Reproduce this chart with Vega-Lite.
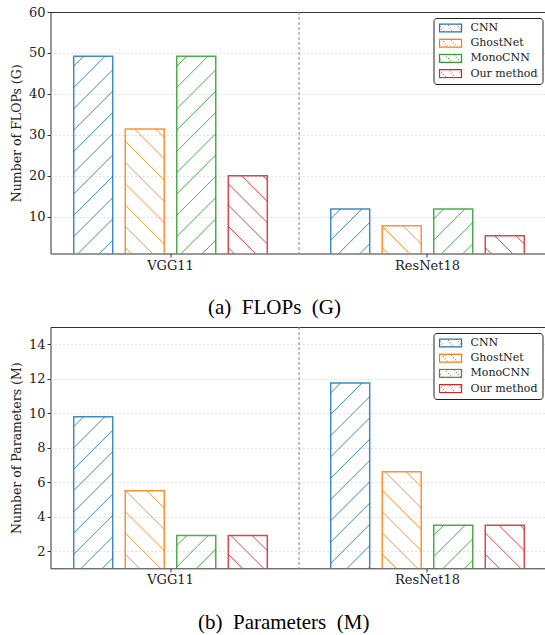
{
  "$schema": "https://vega.github.io/schema/vega-lite/v6.json",
  "padding": {"left": 9.5, "top": 5, "right": 0, "bottom": 0},
  "spacing": 7,
  "background": "white",
  "params": [
    {"name": "hb", "value": [
      {"offset": 0.03423, "color": "rgba(31,119,180,0)"}, {"offset": 0.03846, "color": "rgba(31,119,180,0.8)"}, {"offset": 0.04269, "color": "rgba(31,119,180,0)"},
      {"offset": 0.11615, "color": "rgba(31,119,180,0)"}, {"offset": 0.12038, "color": "rgba(31,119,180,0.8)"}, {"offset": 0.12462, "color": "rgba(31,119,180,0)"},
      {"offset": 0.19808, "color": "rgba(31,119,180,0)"}, {"offset": 0.20231, "color": "rgba(31,119,180,0.8)"}, {"offset": 0.20654, "color": "rgba(31,119,180,0)"},
      {"offset": 0.28, "color": "rgba(31,119,180,0)"}, {"offset": 0.28423, "color": "rgba(31,119,180,0.8)"}, {"offset": 0.28846, "color": "rgba(31,119,180,0)"},
      {"offset": 0.36192, "color": "rgba(31,119,180,0)"}, {"offset": 0.36615, "color": "rgba(31,119,180,0.8)"}, {"offset": 0.37038, "color": "rgba(31,119,180,0)"},
      {"offset": 0.44385, "color": "rgba(31,119,180,0)"}, {"offset": 0.44808, "color": "rgba(31,119,180,0.8)"}, {"offset": 0.45231, "color": "rgba(31,119,180,0)"},
      {"offset": 0.52577, "color": "rgba(31,119,180,0)"}, {"offset": 0.53, "color": "rgba(31,119,180,0.8)"}, {"offset": 0.53423, "color": "rgba(31,119,180,0)"},
      {"offset": 0.60769, "color": "rgba(31,119,180,0)"}, {"offset": 0.61192, "color": "rgba(31,119,180,0.8)"}, {"offset": 0.61615, "color": "rgba(31,119,180,0)"},
      {"offset": 0.68962, "color": "rgba(31,119,180,0)"}, {"offset": 0.69385, "color": "rgba(31,119,180,0.8)"}, {"offset": 0.69808, "color": "rgba(31,119,180,0)"},
      {"offset": 0.77154, "color": "rgba(31,119,180,0)"}, {"offset": 0.77577, "color": "rgba(31,119,180,0.8)"}, {"offset": 0.78, "color": "rgba(31,119,180,0)"},
      {"offset": 0.85346, "color": "rgba(31,119,180,0)"}, {"offset": 0.85769, "color": "rgba(31,119,180,0.8)"}, {"offset": 0.86192, "color": "rgba(31,119,180,0)"},
      {"offset": 0.93538, "color": "rgba(31,119,180,0)"}, {"offset": 0.93962, "color": "rgba(31,119,180,0.8)"}, {"offset": 0.94385, "color": "rgba(31,119,180,0)"}
    ]},
    {"name": "ho", "value": [
      {"offset": 0.03423, "color": "rgba(255,127,14,0)"}, {"offset": 0.03846, "color": "rgba(255,127,14,0.8)"}, {"offset": 0.04269, "color": "rgba(255,127,14,0)"},
      {"offset": 0.11615, "color": "rgba(255,127,14,0)"}, {"offset": 0.12038, "color": "rgba(255,127,14,0.8)"}, {"offset": 0.12462, "color": "rgba(255,127,14,0)"},
      {"offset": 0.19808, "color": "rgba(255,127,14,0)"}, {"offset": 0.20231, "color": "rgba(255,127,14,0.8)"}, {"offset": 0.20654, "color": "rgba(255,127,14,0)"},
      {"offset": 0.28, "color": "rgba(255,127,14,0)"}, {"offset": 0.28423, "color": "rgba(255,127,14,0.8)"}, {"offset": 0.28846, "color": "rgba(255,127,14,0)"},
      {"offset": 0.36192, "color": "rgba(255,127,14,0)"}, {"offset": 0.36615, "color": "rgba(255,127,14,0.8)"}, {"offset": 0.37038, "color": "rgba(255,127,14,0)"},
      {"offset": 0.44385, "color": "rgba(255,127,14,0)"}, {"offset": 0.44808, "color": "rgba(255,127,14,0.8)"}, {"offset": 0.45231, "color": "rgba(255,127,14,0)"},
      {"offset": 0.52577, "color": "rgba(255,127,14,0)"}, {"offset": 0.53, "color": "rgba(255,127,14,0.8)"}, {"offset": 0.53423, "color": "rgba(255,127,14,0)"},
      {"offset": 0.60769, "color": "rgba(255,127,14,0)"}, {"offset": 0.61192, "color": "rgba(255,127,14,0.8)"}, {"offset": 0.61615, "color": "rgba(255,127,14,0)"},
      {"offset": 0.68962, "color": "rgba(255,127,14,0)"}, {"offset": 0.69385, "color": "rgba(255,127,14,0.8)"}, {"offset": 0.69808, "color": "rgba(255,127,14,0)"},
      {"offset": 0.77154, "color": "rgba(255,127,14,0)"}, {"offset": 0.77577, "color": "rgba(255,127,14,0.8)"}, {"offset": 0.78, "color": "rgba(255,127,14,0)"},
      {"offset": 0.85346, "color": "rgba(255,127,14,0)"}, {"offset": 0.85769, "color": "rgba(255,127,14,0.8)"}, {"offset": 0.86192, "color": "rgba(255,127,14,0)"},
      {"offset": 0.93538, "color": "rgba(255,127,14,0)"}, {"offset": 0.93962, "color": "rgba(255,127,14,0.8)"}, {"offset": 0.94385, "color": "rgba(255,127,14,0)"}
    ]},
    {"name": "hg", "value": [
      {"offset": 0.03423, "color": "rgba(44,160,44,0)"}, {"offset": 0.03846, "color": "rgba(44,160,44,0.8)"}, {"offset": 0.04269, "color": "rgba(44,160,44,0)"},
      {"offset": 0.11615, "color": "rgba(44,160,44,0)"}, {"offset": 0.12038, "color": "rgba(44,160,44,0.8)"}, {"offset": 0.12462, "color": "rgba(44,160,44,0)"},
      {"offset": 0.19808, "color": "rgba(44,160,44,0)"}, {"offset": 0.20231, "color": "rgba(44,160,44,0.8)"}, {"offset": 0.20654, "color": "rgba(44,160,44,0)"},
      {"offset": 0.28, "color": "rgba(44,160,44,0)"}, {"offset": 0.28423, "color": "rgba(44,160,44,0.8)"}, {"offset": 0.28846, "color": "rgba(44,160,44,0)"},
      {"offset": 0.36192, "color": "rgba(44,160,44,0)"}, {"offset": 0.36615, "color": "rgba(44,160,44,0.8)"}, {"offset": 0.37038, "color": "rgba(44,160,44,0)"},
      {"offset": 0.44385, "color": "rgba(44,160,44,0)"}, {"offset": 0.44808, "color": "rgba(44,160,44,0.8)"}, {"offset": 0.45231, "color": "rgba(44,160,44,0)"},
      {"offset": 0.52577, "color": "rgba(44,160,44,0)"}, {"offset": 0.53, "color": "rgba(44,160,44,0.8)"}, {"offset": 0.53423, "color": "rgba(44,160,44,0)"},
      {"offset": 0.60769, "color": "rgba(44,160,44,0)"}, {"offset": 0.61192, "color": "rgba(44,160,44,0.8)"}, {"offset": 0.61615, "color": "rgba(44,160,44,0)"},
      {"offset": 0.68962, "color": "rgba(44,160,44,0)"}, {"offset": 0.69385, "color": "rgba(44,160,44,0.8)"}, {"offset": 0.69808, "color": "rgba(44,160,44,0)"},
      {"offset": 0.77154, "color": "rgba(44,160,44,0)"}, {"offset": 0.77577, "color": "rgba(44,160,44,0.8)"}, {"offset": 0.78, "color": "rgba(44,160,44,0)"},
      {"offset": 0.85346, "color": "rgba(44,160,44,0)"}, {"offset": 0.85769, "color": "rgba(44,160,44,0.8)"}, {"offset": 0.86192, "color": "rgba(44,160,44,0)"},
      {"offset": 0.93538, "color": "rgba(44,160,44,0)"}, {"offset": 0.93962, "color": "rgba(44,160,44,0.8)"}, {"offset": 0.94385, "color": "rgba(44,160,44,0)"}
    ]},
    {"name": "hr", "value": [
      {"offset": 0.03423, "color": "rgba(214,39,40,0)"}, {"offset": 0.03846, "color": "rgba(214,39,40,0.8)"}, {"offset": 0.04269, "color": "rgba(214,39,40,0)"},
      {"offset": 0.11615, "color": "rgba(214,39,40,0)"}, {"offset": 0.12038, "color": "rgba(214,39,40,0.8)"}, {"offset": 0.12462, "color": "rgba(214,39,40,0)"},
      {"offset": 0.19808, "color": "rgba(214,39,40,0)"}, {"offset": 0.20231, "color": "rgba(214,39,40,0.8)"}, {"offset": 0.20654, "color": "rgba(214,39,40,0)"},
      {"offset": 0.28, "color": "rgba(214,39,40,0)"}, {"offset": 0.28423, "color": "rgba(214,39,40,0.8)"}, {"offset": 0.28846, "color": "rgba(214,39,40,0)"},
      {"offset": 0.36192, "color": "rgba(214,39,40,0)"}, {"offset": 0.36615, "color": "rgba(214,39,40,0.8)"}, {"offset": 0.37038, "color": "rgba(214,39,40,0)"},
      {"offset": 0.44385, "color": "rgba(214,39,40,0)"}, {"offset": 0.44808, "color": "rgba(214,39,40,0.8)"}, {"offset": 0.45231, "color": "rgba(214,39,40,0)"},
      {"offset": 0.52577, "color": "rgba(214,39,40,0)"}, {"offset": 0.53, "color": "rgba(214,39,40,0.8)"}, {"offset": 0.53423, "color": "rgba(214,39,40,0)"},
      {"offset": 0.60769, "color": "rgba(214,39,40,0)"}, {"offset": 0.61192, "color": "rgba(214,39,40,0.8)"}, {"offset": 0.61615, "color": "rgba(214,39,40,0)"},
      {"offset": 0.68962, "color": "rgba(214,39,40,0)"}, {"offset": 0.69385, "color": "rgba(214,39,40,0.8)"}, {"offset": 0.69808, "color": "rgba(214,39,40,0)"},
      {"offset": 0.77154, "color": "rgba(214,39,40,0)"}, {"offset": 0.77577, "color": "rgba(214,39,40,0.8)"}, {"offset": 0.78, "color": "rgba(214,39,40,0)"},
      {"offset": 0.85346, "color": "rgba(214,39,40,0)"}, {"offset": 0.85769, "color": "rgba(214,39,40,0.8)"}, {"offset": 0.86192, "color": "rgba(214,39,40,0)"},
      {"offset": 0.93538, "color": "rgba(214,39,40,0)"}, {"offset": 0.93962, "color": "rgba(214,39,40,0.8)"}, {"offset": 0.94385, "color": "rgba(214,39,40,0)"}
    ]}
  ],
  "config": {
    "font": "DejaVu Serif",
    "view": {"stroke": "#333", "strokeWidth": 1},
    "axis": {
      "labelFont": "DejaVu Serif", "labelFontSize": 13, "labelColor": "#222",
      "titleFont": "DejaVu Serif", "titleFontSize": 12.5, "titleFontWeight": "normal", "titleColor": "#222",
      "domainColor": "#333", "tickColor": "#333", "tickSize": 3.5, "labelPadding": 2,
      "gridColor": "#d9d9d9", "gridDash": [2, 2], "gridWidth": 0.8
    },
    "legend": {
      "orient": "top-right", "offset": 5.5, "title": null,
      "strokeColor": "#222", "fillColor": "white", "cornerRadius": 3, "padding": 5,
      "labelFont": "DejaVu Serif", "labelFontSize": 11, "labelColor": "#222", "labelOffset": 8,
      "symbolType": "M-1,-0.36L1,-0.36L1,0.36L-1,0.36Z", "symbolSize": 484, "symbolStrokeWidth": 1.3,
      "clipHeight": 10, "rowPadding": 4.2
    }
  },
  "datasets": {
    "d": [
      {"model": "VGG11", "method": "CNN", "flops": 49.2, "params": 9.8},
      {"model": "VGG11", "method": "GhostNet", "flops": 31.4, "params": 5.5},
      {"model": "VGG11", "method": "MonoCNN", "flops": 49.2, "params": 2.9},
      {"model": "VGG11", "method": "Our method", "flops": 20.0, "params": 2.9},
      {"model": "ResNet18", "method": "CNN", "flops": 11.9, "params": 11.75},
      {"model": "ResNet18", "method": "GhostNet", "flops": 7.8, "params": 6.6},
      {"model": "ResNet18", "method": "MonoCNN", "flops": 11.9, "params": 3.5},
      {"model": "ResNet18", "method": "Our method", "flops": 5.35, "params": 3.5}
    ]
  },
  "vconcat": [
    {
      "width": 497, "height": 241.5,
      "layer": [
        {
          "data": {"name": "d"},
          "mark": {"type": "bar", "clip": true, "strokeWidth": 1.5, "strokeOpacity": 0.85,
                   "fill": {"expr": "(datum.method==='CNN'||datum.method==='MonoCNN') ? {gradient:'linear',x1:0,y1:0,x2:39*260/(1521+pow(datum.flops*4.0932,2)),y2:datum.flops*4.0932*260/(1521+pow(datum.flops*4.0932,2)),stops:(datum.method==='CNN'?hb:hg)} : {gradient:'linear',x1:0,y1:1,x2:39*260/(1521+pow(datum.flops*4.0932,2)),y2:1-datum.flops*4.0932*260/(1521+pow(datum.flops*4.0932,2)),stops:(datum.method==='GhostNet'?ho:hr)}"}},
          "encoding": {
            "x": {"field": "model", "type": "nominal", "sort": ["VGG11", "ResNet18"],
                  "scale": {"domain": ["VGG11", "ResNet18"], "paddingInner": 0.198, "paddingOuter": 0.066},
                  "axis": {"labelAngle": 0, "title": "(a)\u00a0 FLOPs\u00a0 (G)", "titleFont": "Liberation Serif", "titleFontSize": 21,
                           "titleColor": "#000", "titleX": 223.5, "titleY": 60, "titleBaseline": "alphabetic", "titleAlign": "center", "domain": false}},
            "xOffset": {"field": "method", "type": "nominal", "sort": ["CNN", "GhostNet", "MonoCNN", "Our method"],
                        "scale": {"paddingInner": 0.243, "paddingOuter": 0.1215}},
            "y": {"field": "flops", "type": "quantitative",
                  "scale": {"domain": [1, 60], "nice": false, "zero": false},
                  "axis": {"values": [10, 20, 30, 40, 50, 60], "title": "Number of FLOPs (G)", "titlePadding": 5, "grid": true, "domain": false,
                           "gridOpacity": {"condition": {"test": "datum.value >= 60", "value": 0}, "value": 1}}},
            "y2": {"datum": 0},
            "stroke": {"field": "method", "type": "nominal", "sort": ["CNN", "GhostNet", "MonoCNN", "Our method"],
                       "scale": {"domain": ["CNN", "GhostNet", "MonoCNN", "Our method"], "range": ["#1f77b4", "#ff7f0e", "#2ca02c", "#d62728"]},
                       "legend": {"encode": {"symbols": {"strokeOpacity": {"value": 0.85}, "fillOpacity": {"value": 1}, "fill": {"value": "white"},
                         "shape": {"value": {"expr": "datum.value==='CNN' ? 'M-1,-0.36L1,-0.36L1,0.36L-1,0.36ZM0.19,0.36L0.91,-0.36' : datum.value==='MonoCNN' ? 'M-1,-0.36L1,-0.36L1,0.36L-1,0.36ZM0.28,0.36L1,-0.36' : datum.value==='GhostNet' ? 'M-1,-0.36L1,-0.36L1,0.36L-1,0.36ZM-0.36,-0.36L0.36,0.36' : 'M-1,-0.36L1,-0.36L1,0.36L-1,0.36ZM0.28,-0.36L1,0.36'"}}}}}}
          }
        },
        {
          "data": {"values": [{"model": "VGG11"}]},
          "mark": {"type": "rule", "color": "#999", "strokeDash": [3, 2], "strokeWidth": 1.2},
          "encoding": {
            "x": {"field": "model", "type": "nominal", "sort": ["VGG11", "ResNet18"], "bandPosition": 1.1238,
                  "scale": {"domain": ["VGG11", "ResNet18"]}}
          }
        }
      ]
    },
    {
      "width": 497, "height": 241.3,
      "layer": [
        {
          "data": {"name": "d"},
          "mark": {"type": "bar", "clip": true, "strokeWidth": 1.5, "strokeOpacity": 0.85,
                   "fill": {"expr": "(datum.method==='CNN'||datum.method==='MonoCNN') ? {gradient:'linear',x1:0,y1:0,x2:39*260/(1521+pow(datum.params*17.2357,2)),y2:datum.params*17.2357*260/(1521+pow(datum.params*17.2357,2)),stops:(datum.method==='CNN'?hb:hg)} : {gradient:'linear',x1:0,y1:1,x2:39*260/(1521+pow(datum.params*17.2357,2)),y2:1-datum.params*17.2357*260/(1521+pow(datum.params*17.2357,2)),stops:(datum.method==='GhostNet'?ho:hr)}"}},
          "encoding": {
            "x": {"field": "model", "type": "nominal", "sort": ["VGG11", "ResNet18"],
                  "scale": {"domain": ["VGG11", "ResNet18"], "paddingInner": 0.198, "paddingOuter": 0.066},
                  "axis": {"labelAngle": 0, "title": "(b)\u00a0 Parameters\u00a0 (M)", "titleFont": "Liberation Serif", "titleFontSize": 21,
                           "titleColor": "#000", "titleX": 232.7, "titleY": 59.7, "titleBaseline": "alphabetic", "titleAlign": "center", "domain": false}},
            "xOffset": {"field": "method", "type": "nominal", "sort": ["CNN", "GhostNet", "MonoCNN", "Our method"],
                        "scale": {"paddingInner": 0.243, "paddingOuter": 0.1215}},
            "y": {"field": "params", "type": "quantitative",
                  "scale": {"domain": [1, 15], "nice": false, "zero": false},
                  "axis": {"values": [2, 4, 6, 8, 10, 12, 14], "title": "Number of Parameters (M)", "titlePadding": 5, "grid": true, "domain": false}},
            "y2": {"datum": 0},
            "stroke": {"field": "method", "type": "nominal", "sort": ["CNN", "GhostNet", "MonoCNN", "Our method"],
                       "scale": {"domain": ["CNN", "GhostNet", "MonoCNN", "Our method"], "range": ["#1f77b4", "#ff7f0e", "#2ca02c", "#d62728"]},
                       "legend": {"encode": {"symbols": {"strokeOpacity": {"value": 0.85}, "fillOpacity": {"value": 1}, "fill": {"value": "white"},
                         "shape": {"value": {"expr": "datum.value==='CNN' ? 'M-1,-0.36L1,-0.36L1,0.36L-1,0.36ZM0.19,0.36L0.91,-0.36' : datum.value==='MonoCNN' ? 'M-1,-0.36L1,-0.36L1,0.36L-1,0.36ZM0.28,0.36L1,-0.36' : datum.value==='GhostNet' ? 'M-1,-0.36L1,-0.36L1,0.36L-1,0.36ZM-0.36,-0.36L0.36,0.36' : 'M-1,-0.36L1,-0.36L1,0.36L-1,0.36ZM0.28,-0.36L1,0.36'"}}}}}}
          }
        },
        {
          "data": {"values": [{"model": "VGG11"}]},
          "mark": {"type": "rule", "color": "#999", "strokeDash": [3, 2], "strokeWidth": 1.2},
          "encoding": {
            "x": {"field": "model", "type": "nominal", "sort": ["VGG11", "ResNet18"], "bandPosition": 1.1238,
                  "scale": {"domain": ["VGG11", "ResNet18"]}}
          }
        }
      ]
    }
  ],
  "resolve": {"scale": {"stroke": "independent", "x": "independent", "y": "independent"}, "legend": {"stroke": "independent"}}
}
